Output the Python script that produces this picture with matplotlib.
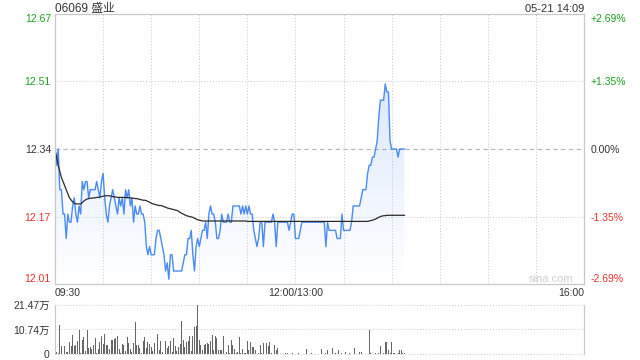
import numpy as np
import matplotlib
matplotlib.use('Agg')
import matplotlib.pyplot as plt

plt.rcParams['font.family'] = ['Liberation Sans', 'Noto Sans CJK SC', 'DejaVu Sans']

# ---- data ----
title = '06069 盛业'
stamp = '05-21 14:09'
prev_close = 12.34
pct_levels = [2.69, 1.35, 0.0, -1.35, -2.69]
time_labels = ['09:30', '12:00/13:00', '16:00']
n_slots = 330  # trading minutes 09:30-12:00 + 13:00-16:00

# per-minute last price, morning (09:30-11:59)
am_price = [
    12.34, 12.30, 12.34, 12.24, 12.24, 12.18, 12.18, 12.12, 12.18, 12.16,
    12.16, 12.20, 12.22, 12.18, 12.16, 12.20, 12.18, 12.26, 12.24, 12.26,
    12.26, 12.22, 12.24, 12.24, 12.24, 12.24, 12.26, 12.24, 12.22, 12.26,
    12.28, 12.22, 12.18, 12.16, 12.20, 12.22, 12.24, 12.22, 12.20, 12.18,
    12.22, 12.20, 12.22, 12.18, 12.24, 12.22, 12.24, 12.20, 12.22, 12.16,
    12.20, 12.18, 12.18, 12.20, 12.18, 12.18, 12.16, 12.10, 12.08, 12.10,
    12.08, 12.08, 12.08, 12.12, 12.14, 12.14, 12.12, 12.10, 12.08, 12.04,
    12.06, 12.02, 12.08, 12.08, 12.04, 12.04, 12.04, 12.04, 12.04, 12.04,
    12.06, 12.08, 12.08, 12.12, 12.12, 12.14, 12.08, 12.04, 12.10, 12.12,
    12.10, 12.12, 12.14, 12.14, 12.16, 12.12, 12.18, 12.20, 12.18, 12.18,
    12.16, 12.12, 12.12, 12.14, 12.18, 12.16, 12.16, 12.16, 12.18, 12.16,
    12.16, 12.20, 12.20, 12.20, 12.20, 12.20, 12.18, 12.20, 12.18, 12.20,
    12.18, 12.20, 12.18, 12.18, 12.14, 12.12, 12.10, 12.12, 12.16, 12.16,
    12.10, 12.16, 12.16, 12.16, 12.16, 12.16, 12.18, 12.16, 12.10, 12.16,
    12.16, 12.16, 12.16, 12.16, 12.16, 12.16, 12.14, 12.16, 12.18, 12.18,
]
# afternoon (13:00-14:08)
pm_price = [
    12.12, 12.12, 12.12, 12.14, 12.16, 12.16, 12.16, 12.16, 12.16, 12.16,
    12.16, 12.16, 12.16, 12.16, 12.16, 12.16, 12.16, 12.16, 12.16, 12.10,
    12.16, 12.14, 12.14, 12.14, 12.14, 12.14, 12.12, 12.12, 12.12, 12.18,
    12.14, 12.14, 12.14, 12.14, 12.14, 12.16, 12.20, 12.20, 12.20, 12.20,
    12.20, 12.22, 12.24, 12.24, 12.24, 12.28, 12.30, 12.30, 12.32, 12.32,
    12.34, 12.36, 12.42, 12.46, 12.46, 12.46, 12.50, 12.48, 12.48, 12.36,
    12.34, 12.34, 12.34, 12.34, 12.32, 12.34, 12.34, 12.34, 12.34,
]

# average price line
am_avg = [
    12.340, 12.320, 12.300, 12.285, 12.270, 12.260, 12.250, 12.240, 12.230, 12.220,
    12.215, 12.210, 12.207, 12.205, 12.205, 12.205, 12.205, 12.208, 12.212, 12.215,
    12.217, 12.218, 12.219, 12.219, 12.220, 12.220, 12.221, 12.221, 12.222, 12.223,
    12.224, 12.225, 12.225, 12.225, 12.225, 12.224, 12.223, 12.222, 12.222, 12.221,
    12.221, 12.221, 12.221, 12.221, 12.221, 12.220, 12.220, 12.220, 12.219, 12.219,
    12.218, 12.218, 12.217, 12.216, 12.215, 12.214, 12.214, 12.213, 12.211, 12.209,
    12.207, 12.205, 12.204, 12.203, 12.202, 12.201, 12.201, 12.200, 12.198, 12.197,
    12.195, 12.194, 12.193, 12.192, 12.191, 12.190, 12.189, 12.187, 12.184, 12.182,
    12.180, 12.178, 12.176, 12.175, 12.174, 12.173, 12.172, 12.170, 12.168, 12.166,
    12.165, 12.164, 12.163, 12.163, 12.163, 12.163, 12.163, 12.163, 12.163, 12.163,
    12.163, 12.163, 12.163, 12.163, 12.163, 12.163, 12.163, 12.163, 12.163, 12.163,
    12.163, 12.163, 12.163, 12.163, 12.163, 12.163, 12.163, 12.163, 12.163, 12.163,
    12.162, 12.162, 12.162, 12.162, 12.162, 12.162, 12.162, 12.162, 12.162, 12.162,
    12.162, 12.162, 12.162, 12.162, 12.162, 12.162, 12.162, 12.162, 12.162, 12.162,
    12.162, 12.162, 12.162, 12.162, 12.162, 12.162, 12.162, 12.162, 12.162, 12.162,
]
pm_avg = [
    12.162, 12.162, 12.162, 12.162, 12.162, 12.162, 12.162, 12.162, 12.162, 12.162,
    12.162, 12.162, 12.162, 12.162, 12.162, 12.162, 12.162, 12.162, 12.162, 12.162,
    12.162, 12.162, 12.162, 12.162, 12.162, 12.162, 12.162, 12.162, 12.162, 12.162,
    12.162, 12.162, 12.162, 12.162, 12.162, 12.162, 12.162, 12.162, 12.162, 12.162,
    12.162, 12.162, 12.162, 12.162, 12.162, 12.162, 12.163, 12.164, 12.165, 12.166,
    12.168, 12.170, 12.172, 12.174, 12.175, 12.176, 12.176, 12.177, 12.177, 12.177,
    12.177, 12.177, 12.177, 12.177, 12.177, 12.177, 12.177, 12.177, 12.177,
]

# volume per minute, in 万 shares
am_vol = [
    0.7, 0.9, 0.3, 12.8, 3.3, 3.6, 3.6, 0.9, 0.9, 5.1,
    3.6, 8.4, 3.3, 4.1, 5.5, 10.6, 0.4, 6.2, 7.3, 1.5,
    10.3, 2.6, 3.0, 2.2, 4.1, 7.0, 0.4, 2.3, 5.4, 7.7,
    4.5, 8.8, 4.1, 4.1, 2.3, 6.2, 6.2, 6.7, 7.0, 8.0,
    2.3, 0.5, 4.5, 4.1, 1.5, 7.5, 4.9, 2.3, 0.9, 4.8,
    14.1, 4.1, 4.1, 2.6, 0.5, 5.8, 7.5, 2.6, 5.1, 4.5,
    3.0, 1.2, 4.8, 8.3, 8.8, 1.6, 5.8, 0.9, 0.5, 5.5,
    2.6, 3.6, 5.8, 0.9, 7.0, 3.3, 1.3, 3.2, 4.5, 14.5,
    6.1, 3.2, 5.4, 5.8, 8.0, 1.5, 8.0, 12.0, 12.3, 21.47,
    6.2, 3.8, 1.9, 4.1, 4.6, 4.9, 4.5, 5.7, 8.3, 1.7,
    8.0, 7.1, 1.7, 1.9, 1.7, 8.0, 0.1, 0.7, 4.1, 0.5,
    6.2, 4.1, 2.3, 0.4, 0.9, 7.5, 0.5, 2.3, 0.4, 0.3,
    5.8, 1.6, 5.4, 3.2, 3.0, 1.9, 1.9, 0.4, 4.1, 0.4,
    4.8, 1.9, 4.8, 3.3, 5.1, 0.4, 0.2, 4.1, 1.9, 2.6,
    0.2, 0.2, 0.1, 0.2, 0.3, 0.4, 0.2, 0.1, 0.3, 0.2,
]
pm_vol = [
    0.2, 0.1, 0.3, 0.2, 0.1, 0.2, 0.1, 2.2, 0.2, 0.1,
    0.3, 0.2, 0.1, 0.2, 0.1, 0.2, 2.2, 0.2, 0.1, 0.3,
    1.9, 0.2, 0.1, 2.6, 0.2, 0.3, 0.1, 1.9, 0.2, 0.3,
    0.1, 0.9, 0.2, 0.1, 0.3, 0.2, 0.1, 2.6, 0.2, 0.1,
    0.8, 0.8, 0.2, 0.1, 0.3, 0.2, 10.6, 0.3, 0.2, 0.1,
    0.3, 0.2, 0.4, 3.6, 3.6, 0.3, 5.1, 5.4, 1.9, 0.3,
    5.4, 0.4, 0.4, 0.2, 0.4, 1.9, 1.9, 0.4, 0.5,
]
vol_ticks = [0, 10.74, 21.47]

# ---- colours ----
GREEN = '#1e9e1e'
RED = '#e8332a'
DARK = '#333333'
GRID = '#c8c8c8'
LINE = '#4a8af4'

price = np.array(am_price + pm_price)
avg = np.array(am_avg + pm_avg)
vol = np.array(am_vol + pm_vol)
x = np.arange(len(price))

price_ticks = [prev_close * (1 + p / 100) for p in pct_levels]
ymin, ymax = price_ticks[-1], price_ticks[0]

fig = plt.figure(figsize=(6.4, 3.6), dpi=100)
ax = fig.add_axes([55 / 640, 1 - 284 / 360, 529 / 640, 270 / 360])
axv = fig.add_axes([55 / 640, 1 - 354 / 360, 529 / 640, 49 / 360])

# gradient fill under the price line
grad = np.zeros((256, 1, 4))
grad[:, 0, 0] = 0.29
grad[:, 0, 1] = 0.54
grad[:, 0, 2] = 0.96
grad[:, 0, 3] = np.linspace(0.26, 0.0, 256)
poly = ax.fill_between(x, price, ymin, facecolor='none', edgecolor='none')
img = ax.imshow(grad, extent=[0, n_slots, ymin, ymax], aspect='auto',
                origin='upper', zorder=1, interpolation='bilinear')
img.set_clip_path(poly.get_paths()[0], transform=ax.transData)

ax.plot(x, price, color=LINE, lw=1.0, zorder=3)
ax.plot(x, avg, color='#2a2a2a', lw=0.9, zorder=3)

ax.set_xlim(0, n_slots)
ax.set_ylim(ymin, ymax)

# grid
for t in range(30, n_slots, 30):
    ax.axvline(t, color=GRID, lw=0.7, ls=(0, (1, 2)), zorder=0)
for p, v in zip(pct_levels[1:-1], price_ticks[1:-1]):
    if p == 0:
        ax.axhline(v, color='#b4b4b4', lw=0.8, ls=(0, (4, 3)), zorder=0)
    else:
        ax.axhline(v, color=GRID, lw=0.7, ls=(0, (1, 2)), zorder=0)

for s in ax.spines.values():
    s.set_color(GRID)
    s.set_linewidth(0.8)

# left price labels
ax.set_yticks(price_ticks)
ax.set_yticklabels([f'{v:.2f}' for v in price_ticks])
ax.tick_params(axis='y', length=0, pad=3, labelsize=7.5)
colors = [GREEN if p > 0 else (RED if p < 0 else DARK) for p in pct_levels]
ticks = ax.yaxis.get_major_ticks()
for i, (tk, c) in enumerate(zip(ticks, colors)):
    tk.label1.set_color(c)
    if i == 0:
        tk.label1.set_verticalalignment('top')
    elif i == len(ticks) - 1:
        tk.label1.set_verticalalignment('bottom')

# right pct labels
axr = ax.twinx()
axr.set_ylim(ymin, ymax)
axr.set_yticks(price_ticks)
axr.set_yticklabels(['0.00%' if p == 0 else f'{p:+.2f}%' for p in pct_levels])
axr.tick_params(axis='y', length=0, pad=5, labelsize=7.5)
for s in axr.spines.values():
    s.set_color(GRID)
    s.set_linewidth(0.8)
rticks = axr.yaxis.get_major_ticks()
for i, (tk, c) in enumerate(zip(rticks, colors)):
    tk.label2.set_color(c)
    if i == 0:
        tk.label2.set_verticalalignment('top')
    elif i == len(rticks) - 1:
        tk.label2.set_verticalalignment('bottom')

# time labels
ax.set_xticks([0, 150, n_slots])
ax.set_xticklabels(time_labels)
ax.tick_params(axis='x', length=0, pad=3, labelsize=7.5, labelcolor=DARK)
xl = ax.get_xticklabels()
xl[0].set_horizontalalignment('left')
xl[-1].set_horizontalalignment('right')

ax.text(0.979, 0.02, 'sina.com', transform=ax.transAxes, ha='right',
        va='center', fontsize=8, color='#cfcfcf')

# volume
axv.bar(x, vol, width=0.6, color='#666666', zorder=2)
axv.set_xlim(0, n_slots)
axv.set_ylim(0, vol_ticks[-1])
for v in vol_ticks:
    axv.axhline(v, color=GRID, lw=0.7, ls=(0, (1, 2)), zorder=0, clip_on=False)
axv.spines['top'].set_visible(False)
axv.spines['bottom'].set_visible(False)
axv.spines['left'].set_color(GRID)
axv.spines['right'].set_color(GRID)
axv.set_xticks([])
axv.set_yticks(vol_ticks)
axv.set_yticklabels(['0' if v == 0 else f'{v:.2f}万' for v in vol_ticks])
axv.tick_params(axis='y', length=0, pad=4, labelsize=7.5, labelcolor=DARK)

fig.text(55 / 640, 1 - 9 / 360, title, fontsize=8.5, color=DARK, va='center')
fig.text(584 / 640, 1 - 9 / 360, stamp, fontsize=8, color=DARK, va='center',
         ha='right')

fig.savefig('out.png', dpi=100)
